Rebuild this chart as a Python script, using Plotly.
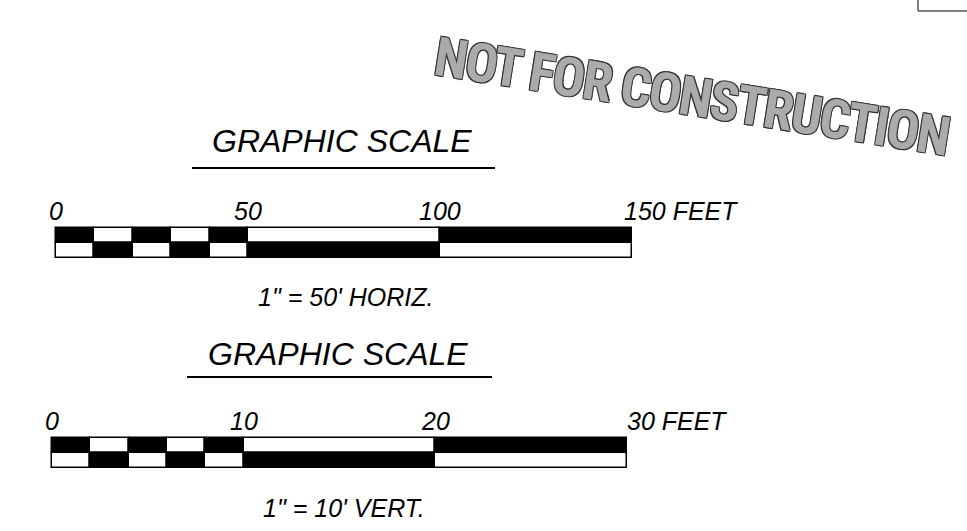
import plotly.graph_objects as go

W, H = 967, 531

# ---------------- data ----------------
title_text = "GRAPHIC SCALE"
stamp_text = "NOT FOR CONSTRUCTION"

# horizontal scale (feet)
h_ticks = [0, 50, 100, 150]
h_tick_labels = ["0", "50", "100", "150 FEET"]
h_seg_starts = [0, 10, 20, 30, 40, 50, 100]
h_seg_widths = [10, 10, 10, 10, 10, 50, 50]
h_top_colors = ["black", "white", "black", "white", "black", "white", "black"]
h_caption = "1\" = 50' HORIZ."

# vertical scale (feet)
v_ticks = [0, 10, 20, 30]
v_tick_labels = ["0", "10", "20", "30 FEET"]
v_seg_starts = [0, 2, 4, 6, 8, 10, 20]
v_seg_widths = [2, 2, 2, 2, 2, 10, 10]
v_top_colors = ["black", "white", "black", "white", "black", "white", "black"]
v_caption = "1\" = 10' VERT."


def flip(colors):
    return ["white" if c == "black" else "black" for c in colors]


def px_x(p):
    return p / W


def px_y(p):
    return 1 - p / H


FONT = "Liberation Sans, Arial, sans-serif"
fig = go.Figure()

scales = [
    dict(ax="", starts=h_seg_starts, widths=h_seg_widths, top=h_top_colors,
         ticks=h_ticks, labels=h_tick_labels, caption=h_caption,
         x0=56, x1=632, y0=228, y1=258, maxv=150, last_shift=-10,
         cap=(346, 297), title=(341.5, 141), ul=(192, 495, 168)),
    dict(ax="2", starts=v_seg_starts, widths=v_seg_widths, top=v_top_colors,
         ticks=v_ticks, labels=v_tick_labels, caption=v_caption,
         x0=52, x1=627, y0=438, y1=468, maxv=30, last_shift=-2,
         cap=(343.5, 508), title=(338, 354), ul=(187, 492, 377)),
]

annotations = []
shapes = []
pad_px = 3
for s in scales:
    xa = "x" + s["ax"]
    ya = "y" + s["ax"]
    n = len(s["starts"])
    for row, cols in [(1, s["top"]), (0, flip(s["top"]))]:
        fig.add_trace(go.Bar(
            orientation="h", base=s["starts"], x=s["widths"], y=[row] * n,
            width=[1] * n, marker=dict(color=cols, line=dict(color="black", width=1.5)),
            xaxis=xa, yaxis=ya, showlegend=False, hoverinfo="skip"))
    xs = s["maxv"] / (s["x1"] - s["x0"])
    ys = 2 / (s["y1"] - s["y0"])
    fig.update_layout(**{
        "xaxis" + s["ax"]: dict(domain=[px_x(s["x0"] - pad_px), px_x(s["x1"] + pad_px)],
                                range=[-pad_px * xs, s["maxv"] + pad_px * xs],
                                visible=False, anchor=ya, fixedrange=True),
        "yaxis" + s["ax"]: dict(domain=[px_y(s["y1"] + pad_px), px_y(s["y0"] - pad_px)],
                                range=[-0.5 - pad_px * ys, 1.5 + pad_px * ys],
                                visible=False, anchor=xa, fixedrange=True),
    })
    for i, (t, lab) in enumerate(zip(s["ticks"], s["labels"])):
        last = i == len(s["ticks"]) - 1
        annotations.append(dict(
            x=t, y=1.5, xref=xa, yref=ya, text=lab, showarrow=False,
            xanchor="left" if last else "center", yanchor="middle",
            xshift=s["last_shift"] if last else 0, yshift=17.5,
            font=dict(family=FONT, size=25, color="black", style="italic")))
    annotations.append(dict(
        x=px_x(s["cap"][0]), y=px_y(s["cap"][1]), xref="paper", yref="paper",
        text=s["caption"], showarrow=False, xanchor="center", yanchor="middle",
        font=dict(family=FONT, size=25, color="black", style="italic")))
    annotations.append(dict(
        x=px_x(s["title"][0]), y=px_y(s["title"][1]), xref="paper", yref="paper",
        text=title_text, showarrow=False, xanchor="center", yanchor="middle",
        font=dict(family=FONT, size=32, color="black", style="italic")))
    shapes.append(dict(type="line", xref="paper", yref="paper",
                       x0=px_x(s["ul"][0]), x1=px_x(s["ul"][1]),
                       y0=px_y(s["ul"][2]), y1=px_y(s["ul"][2]),
                       line=dict(color="black", width=1.8)))

# stamp
annotations.append(dict(
    x=px_x(691), y=px_y(96), xref="paper", yref="paper",
    text='<span style="letter-spacing:-2px">' + stamp_text + "</span>",
    showarrow=False, xanchor="center", yanchor="middle", textangle=9,
    font=dict(family="Roboto Condensed, Noto Sans Condensed, "
                     "DejaVu Sans Condensed, Liberation Sans Narrow, sans-serif",
              size=54, color="#ababab", weight="bold",
              shadow="-1px -1px 0 #333, 1px -1px 0 #333, -1px 1px 0 #333, 1px 1px 0 #333")))

# corner box
shapes.append(dict(type="line", xref="paper", yref="paper", x0=px_x(918), x1=px_x(918),
                   y0=px_y(0), y1=px_y(11), line=dict(color="#555", width=1.5)))
shapes.append(dict(type="line", xref="paper", yref="paper", x0=px_x(918), x1=px_x(967),
                   y0=px_y(11), y1=px_y(11), line=dict(color="#555", width=1.5)))

fig.update_layout(
    width=W, height=H, margin=dict(l=0, r=0, t=0, b=0),
    paper_bgcolor="white", plot_bgcolor="rgba(0,0,0,0)",
    barmode="overlay", bargap=0, showlegend=False,
    annotations=annotations, shapes=shapes,
)

fig.write_html("out.html", config={"displayModeBar": False},
               post_script="document.body.style.margin='0';document.body.style.overflow='hidden';")
